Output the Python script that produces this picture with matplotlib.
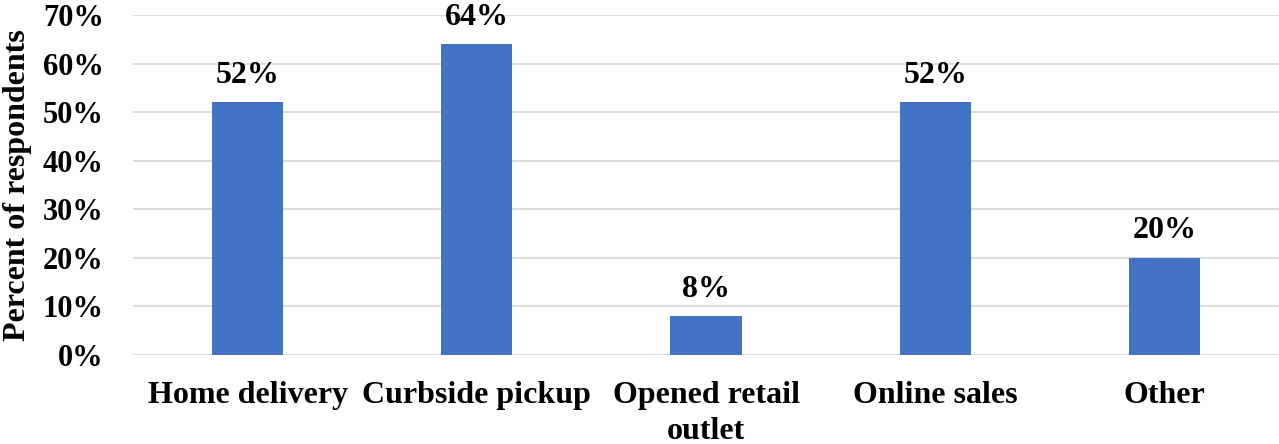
import matplotlib
matplotlib.use("Agg")
import matplotlib.pyplot as plt
from matplotlib.ticker import PercentFormatter

categories = ["Home delivery", "Curbside pickup", "Opened retail\noutlet", "Online sales", "Other"]
values = [52, 64, 8, 52, 20]
yticks = [0, 10, 20, 30, 40, 50, 60, 70]

plt.rcParams['font.family'] = ['Liberation Serif', 'DejaVu Serif']
plt.rcParams['font.weight'] = 'bold'

FS = 23
fig = plt.figure(figsize=(12.79, 4.44), dpi=100)
ax = fig.add_axes([0.104, 0.2005, 0.896, 0.7657])

x = range(len(categories))
ax.bar(x, values, width=0.31, color="#4472C4", zorder=3)
for xi, v in zip(x, values):
    ax.annotate(f"{v}%", (xi, v), xytext=(0, 9), textcoords="offset points",
                ha="center", va="bottom", fontsize=FS, fontweight="bold")

ax.set_xlim(-0.5, len(categories) - 0.5)
ax.set_ylim(0, 70)
ax.set_yticks(yticks)
ax.yaxis.set_major_formatter(PercentFormatter(decimals=0))
ax.set_xticks(list(x))
ax.set_xticklabels(categories, fontsize=FS, fontweight="bold", linespacing=1.3)
ax.tick_params(axis='y', labelsize=22, length=0, pad=21)
ax.tick_params(axis='x', length=0, pad=19)
for lbl in ax.get_yticklabels():
    lbl.set_fontweight("bold")
ax.grid(axis='y', color="#d9d9d9", linewidth=1.3, zorder=0)
for s in ax.spines.values():
    s.set_visible(False)
ax.set_ylabel("Percent of respondents", fontsize=FS, fontweight="bold")
ax.yaxis.set_label_coords(-0.088, 0.5)

fig.savefig("out.png", dpi=100)
